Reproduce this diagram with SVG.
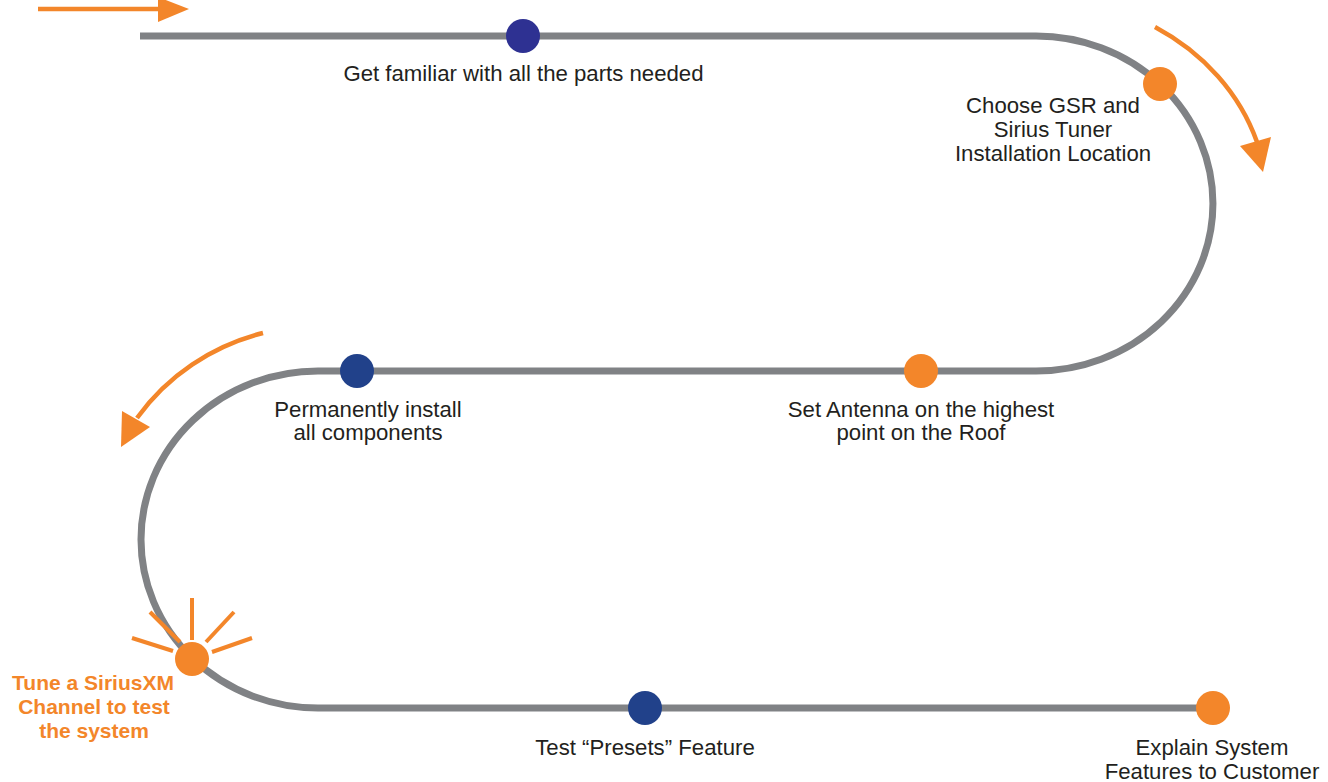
<svg xmlns="http://www.w3.org/2000/svg" width="1328" height="782" viewBox="0 0 1328 782">
<style>
.track{fill:none;stroke:#808285;stroke-width:7}
.flow{fill:none;stroke:#f3862a;stroke-width:4.5}
.head{fill:#f3862a}
.ray{stroke:#f3862a;stroke-width:4;stroke-linecap:butt}
.org{fill:#f3862a}
.navy{fill:#21418a}
.purple{fill:#2e3192}
text{font-family:"Liberation Sans",Arial,sans-serif;font-size:22.2px;fill:#231f20;text-anchor:middle}
.hl{font-weight:bold;fill:#f3862a;font-size:21px}
</style>
<rect width="1328" height="782" fill="#ffffff"/>
<g id="connectors">
<path class="track" d="M140,36 H1036 A177,167.5 0 0 1 1036,371 H318 A177,168.5 0 0 0 318,708 H1213"/>
<line class="flow" x1="38" y1="9" x2="160" y2="9" stroke-width="5"/>
<polygon class="head" points="158,-3 158,22 189,9"/>
<path class="flow" d="M1155,27 A232,206 0 0 1 1257,142"/>
<polygon class="head" points="1240,146 1271,137 1263,172"/>
<path class="flow" d="M263,333 A221,213 0 0 0 137,418"/>
<polygon class="head" points="122,411 150,427 121,447"/>
</g>
<g id="n1"><circle class="purple" cx="523" cy="36" r="17"/><text x="523.5" y="81">Get familiar with all the parts needed</text></g>
<g id="n2"><circle class="org" cx="1160" cy="84" r="17"/><text x="1053" y="113">Choose GSR and</text><text x="1053" y="137">Sirius Tuner</text><text x="1053" y="161">Installation Location</text></g>
<g id="n3"><circle class="org" cx="921" cy="371" r="17"/><text x="921" y="417">Set Antenna on the highest</text><text x="921" y="440">point on the Roof</text></g>
<g id="n4"><circle class="navy" cx="357" cy="371" r="17"/><text x="368" y="417">Permanently install</text><text x="368" y="440">all components</text></g>
<g id="n5">
<line class="ray" x1="192" y1="598" x2="192" y2="640"/>
<line class="ray" x1="150" y1="612" x2="180" y2="642"/>
<line class="ray" x1="132" y1="638" x2="173" y2="651"/>
<line class="ray" x1="234" y1="612" x2="206" y2="642"/>
<line class="ray" x1="252" y1="638" x2="212" y2="652"/>
<circle class="org" cx="192" cy="659" r="17"/>
<text class="hl" x="93" y="690">Tune a SiriusXM</text><text class="hl" x="94" y="714">Channel to test</text><text class="hl" x="94" y="738">the system</text></g>
<g id="n6"><circle class="navy" cx="645" cy="708" r="17"/><text x="645" y="755">Test “Presets” Feature</text></g>
<g id="n7"><circle class="org" cx="1213" cy="708" r="17"/><text x="1212" y="755">Explain System</text><text x="1212" y="779">Features to Customer</text></g>
</svg>
